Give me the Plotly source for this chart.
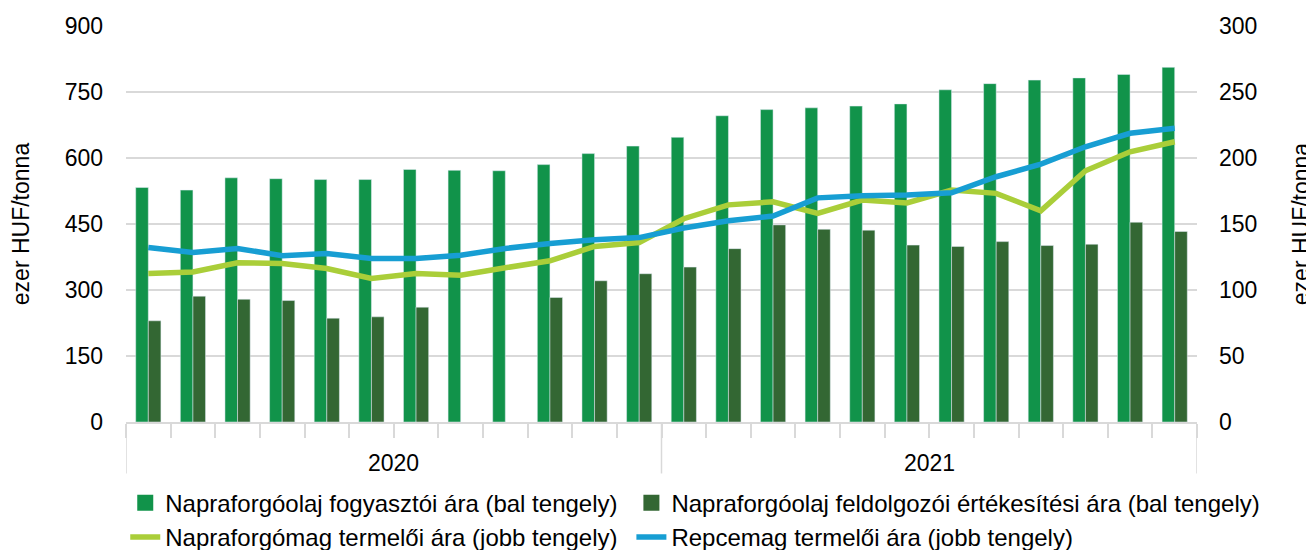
import plotly.graph_objects as go

# ---- data -------------------------------------------------------------
years = ["2020", "2021"]
months = [f"{y}-{m:02d}" for y in years for m in range(1, 13)]

consumer_oil = [533, 527, 555, 553, 551, 551, 574, 572, 571, 585, 610, 627,
                647, 696, 710, 714, 718, 723, 755, 769, 777, 782, 790, 806]
processor_oil = [230, 286, 279, 276, 236, 239, 261, None, None, 283, 321, 337,
                 352, 394, 448, 438, 436, 402, 399, 410, 401, 404, 454, 433]
sunflower_seed = [112.5, 113.7, 120.6, 120.1, 116.3, 108.7, 112.5, 111.2, 116.8, 122.1, 133.0, 136.0,
                  154.0, 164.5, 166.8, 158.0, 168.1, 166.0, 175.7, 173.2, 160.0, 190.3, 204.7, 212.3]
rapeseed = [132.2, 128.4, 131.5, 125.9, 127.7, 123.9, 123.9, 126.4, 131.5, 135.3, 138.0, 139.7,
            147.0, 152.5, 156.0, 169.8, 171.4, 171.9, 173.6, 185.8, 195.4, 208.5, 218.7, 222.5]

names = ["Napraforgóolaj fogyasztói ára (bal tengely)",
         "Napraforgóolaj feldolgozói értékesítési ára (bal tengely)",
         "Napraforgómag termelői ára (jobb tengely)",
         "Repcemag termelői ára (jobb tengely)"]
y_title = "ezer HUF/tonna"

# ---- styles -----------------------------------------------------------
C_LIGHT = "#11934A"
C_DARK = "#336733"
C_LIME = "#AACE39"
C_BLUE = "#179ED3"
GRID = "#D9D9D9"
FONT = "Liberation Sans, Arial, sans-serif"
FS = 23
FS_LEG = 24

fig = go.Figure()
fig.add_trace(go.Bar(x=months, y=consumer_oil, name=names[0], marker_color=C_LIGHT,
                     legendgroup="a", showlegend=False))
fig.add_trace(go.Bar(x=months, y=processor_oil, name=names[1], marker_color=C_DARK,
                     legendgroup="b", showlegend=False))
fig.add_trace(go.Scatter(x=months, y=sunflower_seed, name=names[2], yaxis="y2", mode="lines",
                         line=dict(color=C_LIME, width=5.5), legend="legend", legendrank=2))
fig.add_trace(go.Scatter(x=months, y=rapeseed, name=names[3], yaxis="y2", mode="lines",
                         line=dict(color=C_BLUE, width=5.5), legend="legend2", legendrank=2))
# legend proxies for the bar series (bigger square symbols)
fig.add_trace(go.Scatter(x=[None], y=[None], name=names[0], mode="markers", legendgroup="a",
                         marker=dict(symbol="square", size=22, color=C_LIGHT),
                         legend="legend", legendrank=1))
fig.add_trace(go.Scatter(x=[None], y=[None], name=names[1], mode="markers", legendgroup="b",
                         marker=dict(symbol="square", size=22, color=C_DARK),
                         legend="legend2", legendrank=1))

# year separators and labels below the month ticks
n = len(months)
for i, y in enumerate(years):
    start = i * 12
    fig.add_annotation(x=start + 5.5, xref="x", y=-0.104, yref="paper", text=y,
                       xanchor="center", yanchor="middle", showarrow=False,
                       font=dict(size=FS, family=FONT, color="#000"))
for b in [-0.5, 11.5, n - 0.5]:
    fig.add_shape(type="line", xref="x", yref="paper", x0=b, x1=b, y0=0, y1=-0.13,
                  line=dict(color=GRID, width=1.5))

legend_common = dict(orientation="v", y=-0.148, yanchor="top", xanchor="left",
                     font=dict(size=FS_LEG, family=FONT, color="#000"), itemwidth=30,
                     tracegroupgap=0, bgcolor="rgba(0,0,0,0)", traceorder="normal")

# the page body has an 8px margin; the canvas is offset by 8px and extends past the window
fig.update_layout(
    width=1306, height=560,
    margin=dict(l=118, r=117, t=18, b=146, autoexpand=False),
    paper_bgcolor="white", plot_bgcolor="white",
    font=dict(family=FONT, size=FS, color="#000"),
    barmode="group", bargap=0.435, bargroupgap=0,
    showlegend=True,
    legend=dict(x=-0.0007, **legend_common),
    legend2=dict(x=0.4719, **legend_common),
    xaxis=dict(type="category", showticklabels=False, ticks="outside", tickson="boundaries",
               ticklen=14, tickcolor=GRID, tickwidth=1.5, showline=True, linecolor=GRID,
               linewidth=1.5, showgrid=False, range=[-0.5, n - 0.5], fixedrange=True),
    yaxis=dict(range=[0, 900], dtick=150, showgrid=True, gridcolor=GRID, gridwidth=1.5,
               zeroline=False, showline=False, ticks="", ticklabelstandoff=22,
               title=dict(text=y_title, standoff=30, font=dict(size=FS))),
    yaxis2=dict(range=[0, 300], dtick=50, overlaying="y", side="right", showgrid=False,
                zeroline=False, showline=False, ticks="", ticklabelstandoff=21,
                title=dict(text=y_title, standoff=37, font=dict(size=FS))),
)

fig.write_html("out.html")
